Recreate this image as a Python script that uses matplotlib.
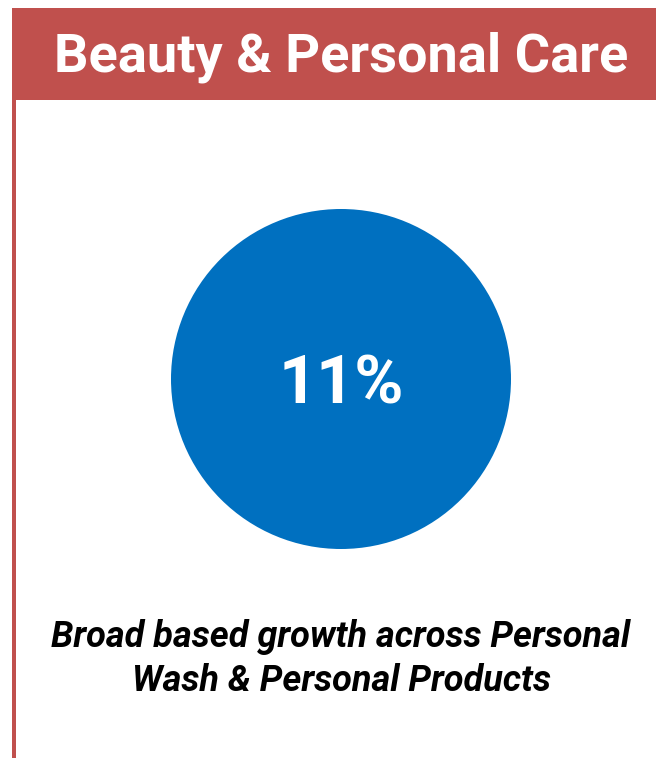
import matplotlib.pyplot as plt
from matplotlib.patches import Circle, Rectangle

# Panel content
title = "Beauty & Personal Care"
growth_pct = 11
caption_lines = ["Broad based growth across Personal", "Wash & Personal Products"]

red = "#C0504D"
blue = "#0070C0"

fig = plt.figure(figsize=(6.56, 7.58), dpi=100)
ax = fig.add_axes([0, 0, 1, 1])
ax.set_xlim(0, 656)
ax.set_ylim(758, 0)
ax.set_aspect("equal")
ax.axis("off")

# header band and left border
ax.add_patch(Rectangle((12, 8), 660, 92, facecolor=red, edgecolor="none"))
ax.add_patch(Rectangle((12, 8), 4, 760, facecolor=red, edgecolor="none"))

ax.text(341, 57, title, color="white", fontsize=39, fontweight="bold",
        family="Roboto", ha="center", va="center")

# growth bubble
ax.add_patch(Circle((341, 379), 170, facecolor=blue, edgecolor="none"))
ax.text(341, 386, f"{growth_pct}%", color="white", fontsize=48,
        fontweight="bold", family="Roboto", ha="center", va="center")

for i, line in enumerate(caption_lines):
    ax.text(341, 637 + i * 44, line, color="black", fontsize=26,
            fontweight="bold", style="italic", family="Roboto",
            ha="center", va="center")

fig.savefig("out.png", dpi=100)
